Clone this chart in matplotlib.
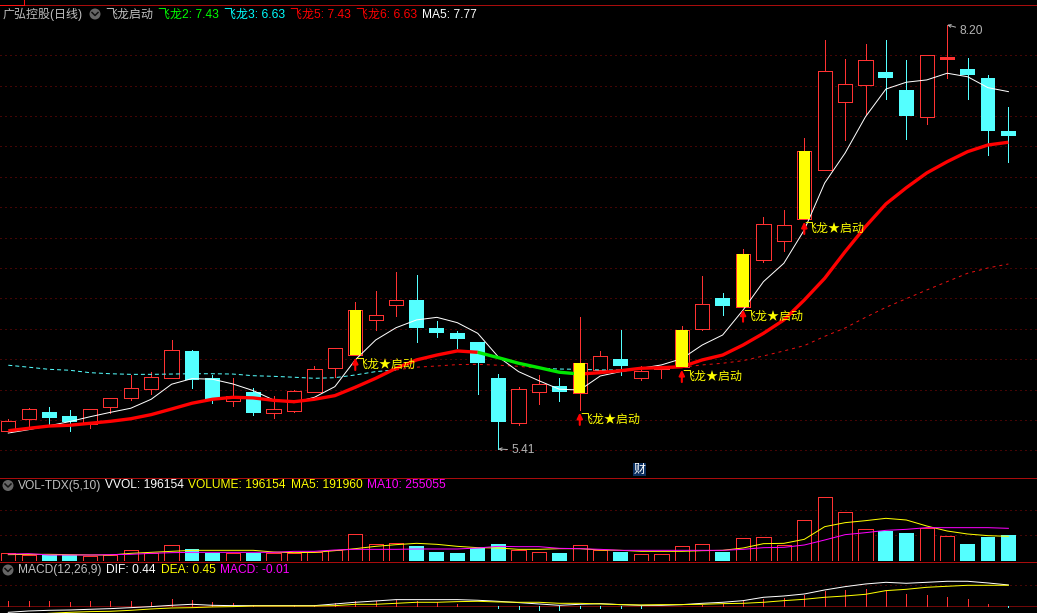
import numpy as np
import matplotlib
matplotlib.use('Agg')
import matplotlib.pyplot as plt
from matplotlib.lines import Line2D
from matplotlib.patches import Circle
from matplotlib.transforms import IdentityTransform

W, H = 1037, 613
plt.rcParams['font.family'] = ['Liberation Sans', 'Noto Sans CJK SC', 'DejaVu Sans']

# candles
opens = [5.530,5.605,5.653,5.627,5.574,5.688,5.744,5.807,5.879,6.055,5.875,5.728,5.785,5.649,5.662,5.787,5.941,
	6.028,6.261,6.359,6.390,6.206,6.173,6.114,5.877,5.583,5.787,5.825,5.778,5.932,6.002,5.877,5.936,5.949,
	6.201,6.403,6.346,6.655,6.780,6.923,7.248,7.695,7.807,7.890,7.772,7.596,7.976,7.910,7.851,7.502]
closes = [5.592,5.671,5.614,5.588,5.671,5.744,5.809,5.882,6.059,5.864,5.739,5.759,5.647,5.671,5.790,5.934,6.073,
	6.325,6.290,6.388,6.206,6.173,6.134,5.976,5.588,5.803,5.836,5.785,5.976,6.020,5.956,5.923,5.949,6.193,
	6.362,6.351,6.693,6.888,6.882,7.371,7.895,7.809,7.967,7.851,7.601,8.002,7.989,7.871,7.502,7.469]
highs = [5.605,5.680,5.686,5.667,5.673,5.744,5.897,5.917,6.127,6.061,5.897,5.877,5.811,5.759,5.798,5.956,6.073,
	6.377,6.448,6.574,6.555,6.252,6.186,6.114,5.903,5.820,5.897,5.877,6.278,6.055,6.193,5.956,5.949,6.219,
	6.548,6.436,6.726,6.936,6.982,7.456,8.101,7.976,8.075,8.101,7.969,8.002,8.200,7.982,7.871,7.660]
lows = [5.528,5.548,5.574,5.528,5.550,5.649,5.732,5.772,5.879,5.811,5.713,5.695,5.634,5.616,5.653,5.787,5.884,
	6.028,6.193,6.285,6.114,6.147,6.075,5.772,5.410,5.568,5.706,5.726,5.667,5.917,5.897,5.864,5.877,5.949,
	6.195,6.292,6.346,6.640,6.713,6.923,7.248,7.443,7.614,7.713,7.449,7.548,7.851,7.713,7.344,7.298]
signal_days = [17,28,33,36,39]

# moving averages on the price panel
ma5 = [5.515,5.537,5.563,5.590,5.622,5.651,5.678,5.737,5.836,5.873,5.869,5.838,5.794,5.732,5.715,5.750,5.820,
	5.996,6.127,6.208,6.259,6.276,6.241,6.171,6.017,5.919,5.859,5.803,5.798,5.890,5.919,5.941,5.963,6.004,
	6.094,6.160,6.324,6.511,6.632,6.851,7.160,7.357,7.596,7.778,7.823,7.838,7.882,7.859,7.787,7.761]
feilong_fast = [5.530,5.546,5.561,5.566,5.579,5.592,5.609,5.636,5.673,5.711,5.737,5.750,5.746,5.730,5.721,5.737,5.761,
	5.816,5.875,5.941,5.996,6.028,6.055,6.046,6.011,5.974,5.945,5.915,5.903,5.912,5.925,5.941,5.945,5.951,
	5.996,6.028,6.094,6.171,6.259,6.390,6.533,6.708,6.873,7.022,7.129,7.226,7.300,7.366,7.410,7.428]
feilong_slow = [5.961,5.948,5.934,5.928,5.912,5.905,5.901,5.901,5.903,5.905,5.905,5.903,5.892,5.888,5.882,5.875,5.879,
	5.897,5.919,5.930,5.948,5.956,5.965,5.967,5.961,5.954,5.941,5.936,5.934,5.930,5.930,5.941,5.941,5.948,
	5.963,5.974,5.991,6.022,6.055,6.090,6.151,6.206,6.276,6.342,6.399,6.456,6.511,6.566,6.601,6.627]
fast_green_days = (23,28)
slow_cyan_days = [(0,19),(26,33)]
slow_red_days = [(19,26),(33,49)]

# volume panel
volume = [59800,49100,49100,49100,41300,49100,83500,64700,122500,93600,64700,64700,64700,60100,60100,67900,83500,
	208300,130300,138100,117000,70200,62400,101400,132600,83500,67900,62400,122500,85800,70200,52300,52300,114700,
	130300,70200,177100,184900,122500,317500,496900,379900,247300,234000,218400,255100,192700,132600,187200,202800]
vol_ma5 = [49400,52000,52000,49400,46800,46800,59800,67600,75400,83200,83200,83200,83200,70200,65000,67600,80600,
	96200,114400,127400,137800,130000,114400,104000,101400,91000,91000,96200,96200,85800,83200,75400,75400,75400,
	80600,83200,101400,135200,137800,169000,267800,299000,314600,332800,319800,273000,234000,210600,197600,192400]
vol_ma10 = [54600,57200,46800,46800,46800,49400,52000,59800,65000,67600,67600,67600,67600,67600,75400,75400,85800,
	91000,91000,91000,93600,93600,93600,101400,114400,111800,111800,98800,96200,91000,83200,83200,83200,83200,83200,83200,
	91000,104000,106600,124800,163800,205400,221000,239200,247000,260000,260000,260000,260000,254800]

# macd panel
dif = [-.129,-.100,-.086,-.079,-.064,-.050,-.029,-.007,.021,.043,.021,.014,.014,.014,.014,.014,.050,
	.086,.114,.143,.143,.143,.143,.129,.107,.079,.050,.021,.043,.057,.036,.021,.021,.036,
	.064,.086,.121,.193,.221,.264,.350,.421,.478,.514,.493,.514,.536,.536,.500,.457]
dea = [-.221,-.179,-.150,-.129,-.114,-.107,-.086,-.057,-.036,-.029,-.014,-.007,.007,.007,.007,.007,.014,
	.043,.043,.064,.086,.086,.100,.107,.093,.086,.086,.064,.064,.050,.036,.029,.036,.036,
	.043,.057,.064,.086,.121,.150,.193,.221,.257,.336,.364,.407,.429,.450,.450,.450]
macd = [.114,.114,.114,.086,.107,.114,.107,.086,.150,.129,.086,.071,.029,.014,.021,.029,.064,
	.107,.121,.136,.107,.093,.043,.007,-.036,-.050,-.079,-.071,-.036,-.029,-.029,-.029,0,0,
	.036,.043,.114,.150,.171,.243,.329,.350,.371,.329,.264,.243,.200,.157,.043,-.010]

RED = '#ff3232'
CYAN = '#54ffff'
YELLOW = '#ffff00'
GRID = '#8a0a0a'
SPINE = '#a80c0c'
px = 0.72  # one pixel in points

x = np.arange(len(opens))
xlim = (-8.3/20.41, (W-8.3)/20.41)

fig = plt.figure(figsize=(W/100, H/100), dpi=100, facecolor='black')

# helper: axes by pixel rows, top to bottom
def panel(y_top, y_bot):
	a = fig.add_axes([0, 1-y_bot/H, 1, (y_bot-y_top)/H], facecolor='black')
	a.set_xlim(*xlim)
	a.set_xticks([])
	a.set_yticks([])
	for s in a.spines.values():
		s.set_visible(False)
	return a

ax = panel(4, 477)
ax.set_ylim(8.3638-477/152, 8.3638-4/152)
ax_vol = panel(477, 561)
ax_vol.set_ylim(0, 84*7800)
ax_macd = panel(561, 613)
ax_macd.set_ylim(-6.7*.02142, 45.3*.02142)

dotted = (0, (1, 4))
for g in np.arange(5.4, 8.01, 0.2):
	ax.axhline(g, color=GRID, lw=px, ls=dotted, zorder=1)
for g in [200000, 400000]:
	ax_vol.axhline(g, color=GRID, lw=px, ls=dotted, zorder=1)
ax_macd.axhline(0.45, color=GRID, lw=px, ls=dotted, zorder=1)
ax_macd.axhline(0, color='#e01010', lw=px, ls=(0, (1, 1)), zorder=1)

# price candles
for i in x:
	up = closes[i] >= opens[i]
	c = RED if up else CYAN
	ax.vlines(i, lows[i], highs[i], color=c, lw=px, antialiased=False, zorder=2)
	bot, top = min(opens[i], closes[i]), max(opens[i], closes[i])
	if up:
		# dojis are only a flat red dash
		face = c if top-bot < 0.02 else 'black'
		ax.bar(i, top-bot, 0.70, bot, facecolor=face, edgecolor=c, lw=px, antialiased=False, zorder=3)
	else:
		ax.bar(i, top-bot, 0.73, bot, facecolor=c, edgecolor=c, lw=0, antialiased=False, zorder=3)
	if i in signal_days:
		ax.bar(i, top-bot, 0.56, bot, facecolor=YELLOW, lw=0, antialiased=False, zorder=7)

# slow line changes colour, fast line goes green while falling
for a, b in slow_cyan_days:
	ax.plot(x[a:b+1], feilong_slow[a:b+1], color=CYAN, lw=px, ls=(0, (4, 3)), zorder=4)
for a, b in slow_red_days:
	ax.plot(x[a:b+1], feilong_slow[a:b+1], color='#e81010', lw=px, ls=(0, (3, 4)), zorder=4)
ax.plot(x, ma5, color='white', lw=px, zorder=5)
g0, g1 = fast_green_days
ax.plot(x[:g0+1], feilong_fast[:g0+1], color='#ff0000', lw=2.4, solid_capstyle='butt', solid_joinstyle='round', zorder=6)
ax.plot(x[g1:], feilong_fast[g1:], color='#ff0000', lw=2.4, solid_capstyle='butt', solid_joinstyle='round', zorder=6)
ax.plot(x[g0:g1+1], feilong_fast[g0:g1+1], color='#00e800', lw=2.4, solid_capstyle='butt', solid_joinstyle='round', zorder=6)

# buy signals under the yellow candles
for i in signal_days:
	ax.annotate('', xy=(i, lows[i]), xytext=(0, -15*px), textcoords='offset points', annotation_clip=False,
		xycoords='data', arrowprops=dict(arrowstyle='-|>', color='#ff0000', lw=1.5,
		shrinkA=0, shrinkB=2, mutation_scale=8), zorder=8)
	ax.annotate('飞龙★启动', xy=(i, lows[i]), xytext=(0, -10*px), textcoords='offset points',
		color=YELLOW, fontsize=12*px, ha='left', va='center', zorder=9)

# high / low marks
grey = '#b4b4b4'
ax.annotate('8.20', xy=(46, highs[46]), xytext=(12.5*px, -6.5*px), textcoords='offset points', color=grey,
	fontsize=12*px, va='center', arrowprops=dict(arrowstyle='->', color=grey, lw=px, shrinkA=1, shrinkB=0, mutation_scale=5))
ax.annotate('5.41', xy=(24, lows[24]), xytext=(13.5*px, -1.5*px), textcoords='offset points', color=grey,
	fontsize=12*px, va='center', arrowprops=dict(arrowstyle='->', color=grey, lw=px, shrinkA=1, shrinkB=0, mutation_scale=5))

# volume bars
for i in x:
	if closes[i] >= opens[i]:
		ax_vol.bar(i, volume[i], 0.70, 0, facecolor='black', edgecolor=RED, lw=px, antialiased=False, zorder=2)
	else:
		ax_vol.bar(i, volume[i], 0.73, 0, facecolor=CYAN, lw=0, antialiased=False, zorder=2)
ax_vol.plot(x, vol_ma5, color=YELLOW, lw=px, zorder=3)
ax_vol.plot(x, vol_ma10, color='#ff00ff', lw=px, zorder=3)

# macd sticks and lines
for i in x:
	ax_macd.vlines(i, 0, macd[i], color=RED if macd[i] >= 0 else CYAN, lw=px, antialiased=False, zorder=2)
ax_macd.plot(x, dif, color='white', lw=px, zorder=3)
ax_macd.plot(x, dea, color=YELLOW, lw=px, zorder=3)

# panel frame lines, in pixels
tr = IdentityTransform()
def hline(x0, x1, y, c):
	fig.add_artist(Line2D([x0, x1], [H-y, H-y], color=c, lw=px, transform=tr))
hline(0, W, 4.5, SPINE)
hline(0, W, 477.5, SPINE)
hline(0, W, 561.5, SPINE)
hline(0, 23, 4.5, '#ff1010')
fig.add_artist(Line2D([23.5, 23.5], [H-4.5, H], color='#ff1010', lw=px, transform=tr))

def icon(cx, cy):
	fig.add_artist(Circle((cx, H-cy), 5.5, color='#666666', lw=0, transform=tr))
	fig.add_artist(Line2D([cx-3, cx, cx+3], [H-cy+1.5, H-cy-1.5, H-cy+1.5], color='#111111', lw=1.1, transform=tr))

def label(left, y, s, c):
	fig.text(left/W, 1-y/H, s, color=c, fontsize=12*px, ha='left', va='center')

# header rows
label(3, 14.5, '广弘控股(日线)', '#c0c0c0')
icon(95, 14)
label(105, 14.5, '飞龙启动', '#c0c0c0')
label(158, 14.5, '飞龙2: 7.43', '#00ff00')
label(224, 14.5, '飞龙3: 6.63', '#00ffff')
label(290, 14.5, '飞龙5: 7.43', '#ff0000')
label(356, 14.5, '飞龙6: 6.63', '#ff0000')
label(422, 14.5, 'MA5: 7.77', '#ffffff')

icon(8, 485.5)
label(18, 485.5, 'VOL-TDX(5,10)', '#c0c0c0')
label(105, 485.5, 'VVOL: 196154', '#ffffff')
label(188, 485.5, 'VOLUME: 196154', YELLOW)
label(291, 485.5, 'MA5: 191960', YELLOW)
label(367, 485.5, 'MA10: 255055', '#ff00ff')

icon(8, 570)
label(18, 570, 'MACD(12,26,9)', '#c0c0c0')
label(106, 570, 'DIF: 0.44', '#ffffff')
label(161, 570, 'DEA: 0.45', YELLOW)
label(220, 570, 'MACD: -0.01', '#ff00ff')

fig.text(639.5/W, 1-469.5/H, '财', color='white', fontsize=12*px, ha='center', va='center',
	bbox=dict(boxstyle='square,pad=0.08', facecolor='#0a2f5f', edgecolor='none'))

fig.savefig('out.png', dpi=100, facecolor='black')
